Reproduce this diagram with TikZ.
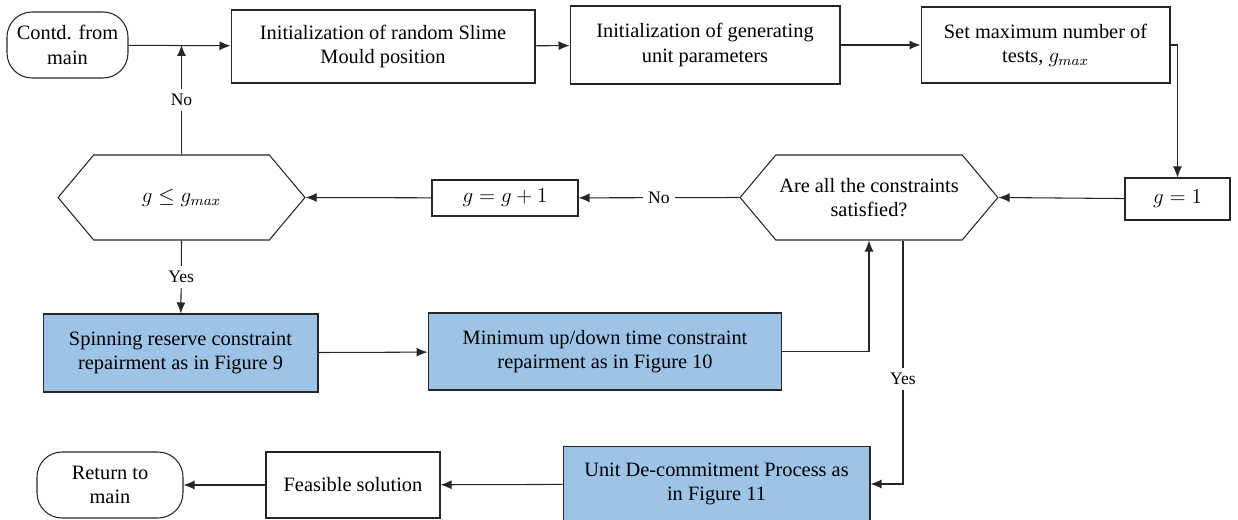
\documentclass[tikz,border=0pt]{standalone}
\usepackage{fontspec}
\setmainfont{Liberation Serif}
\newfontfamily\timesfont{Liberation Serif}
\usepackage{tikz}
\usetikzlibrary{arrows.meta}
\usetikzlibrary{shapes.symbols}
\definecolor{bleu}{RGB}{157,195,230}

\begin{document}
\begin{tikzpicture}[x=0.02cm,y=-0.02cm, line width=0.6pt, >={Latex[length=2.2mm,width=1.8mm]},
    boite/.style={draw=black!85, rectangle, align=center, font=\timesfont\fontsize{11.6}{13.8}\selectfont, inner sep=2pt},
    bleue/.style={boite, fill=bleu},
    terminal/.style={boite, rounded corners=0.5cm},
    test/.style={boite, signal, signal to=east and west, signal pointer angle=100},
    lien/.style={->, draw=black!85},
    etiq/.style={fill=white, font=\timesfont\fontsize{10}{12}\selectfont, inner sep=3pt}]
    \useasboundingbox (0,0) rectangle (1238,520);
    % ligne du haut
    \node[terminal, minimum width=2.42cm, minimum height=1.32cm] (debut) at (67.5,45) {Contd. from\\main};
    \node[boite, minimum width=6.08cm, minimum height=1.46cm] (initpos) at (383,46.5) {Initialization of random Slime\\Mould position};
    \node[boite, minimum width=5.4cm, minimum height=1.56cm] (initpar) at (705,45) {Initialization of generating\\unit parameters};
    \node[boite, minimum width=4.98cm, minimum height=1.52cm] (gmax) at (1045.5,45) {Set maximum number of\\tests, $g_{max}$};
    % ligne du milieu
    \node[boite, minimum width=2.1cm, minimum height=0.84cm] (ginit) at (1177.5,199) {$g = 1$};
    \node[test, minimum width=4.96cm, minimum height=1.7cm] (verif) at (869,197.5) {Are all the constraints\\satisfied?};
    \node[boite, minimum width=2.92cm, minimum height=0.72cm] (gplus) at (505,198) {$g = g + 1$};
    \node[test, minimum width=4.94cm, minimum height=1.7cm] (gtest) at (181.5,197.5) {$g \leq g_{max}$};
    % réparations
    \node[bleue, minimum width=5.5cm, minimum height=1.56cm] (spin) at (180.5,353) {Spinning reserve constraint\\repairment as in Figure 9};
    \node[bleue, minimum width=7.08cm, minimum height=1.54cm] (minud) at (605,351.5) {Minimum up/down time constraint\\repairment as in Figure 10};
    % ligne du bas
    \node[bleue, minimum width=6.14cm, minimum height=1.5cm] (decom) at (716.5,484) {Unit De-commitment Process as\\in Figure 11};
    \node[boite, minimum width=3.48cm, minimum height=1.32cm] (faisable) at (353,485) {Feasible solution};
    \node[terminal, minimum width=2.92cm, minimum height=1.32cm] (fin) at (110,485) {Return to\\main};

    \draw[lien] (debut) -- (initpos);
    \draw[lien] (initpos) -- (initpar);
    \draw[lien] (initpar) -- (gmax);
    \draw[lien] (gmax.east) -| (ginit.north);
    \draw[lien] (ginit) -- (verif.east);
    \draw[lien] (verif.west) -- node[etiq] {No} (gplus);
    \draw[lien] (gplus) -- (gtest.east);
    \draw[lien] (gtest.north) -- node[etiq] {No} (gtest.north |- debut.east);
    \draw[lien] (gtest.south) -- node[etiq] {Yes} (spin);
    \draw[lien] (spin) -- (minud);
    \draw[lien] (minud.east) -| (verif.south);
    \draw[lien] ([xshift=0.68cm]verif.south) |- node[etiq, pos=0.285] {Yes} (decom.east);
    \draw[lien] (decom) -- (faisable);
    \draw[lien] (faisable) -- (fin);
\end{tikzpicture}
\end{document}
